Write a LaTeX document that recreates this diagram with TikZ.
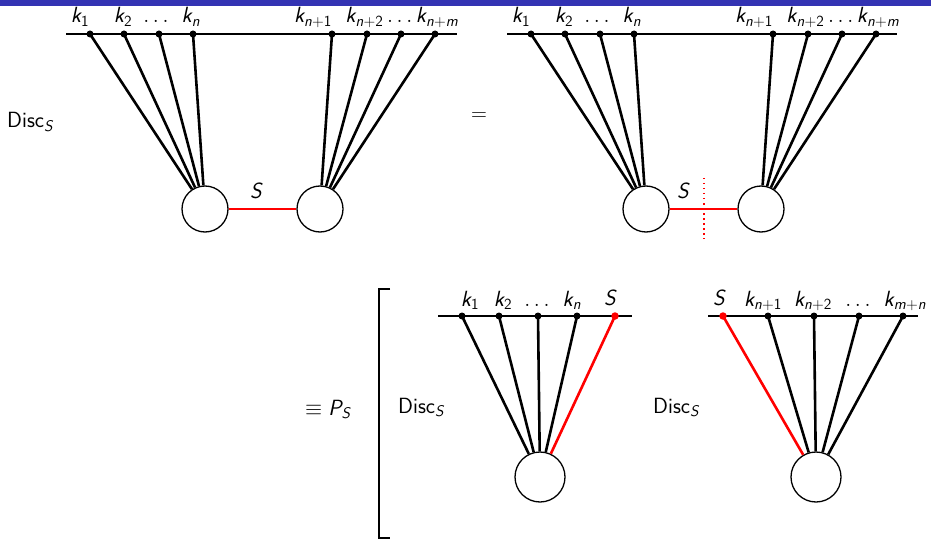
\RequirePackage{fix-cm}
\documentclass[tikz,border=0pt]{standalone}
\DeclareMathAlphabet{\mathsfsl}{OT1}{cmss}{m}{sl}
\DeclareMathAlphabet{\mathsfup}{OT1}{cmss}{m}{n}
\newcommand{\vk}{\mathsfsl{k}}
\newcommand{\vn}{\mathsfsl{n}}
\newcommand{\vm}{\mathsfsl{m}}
\newcommand{\vS}{\mathsfsl{S}}
\newcommand{\vP}{\mathsfsl{P}}
\newcommand{\vone}{\mathsfup{1}}
\newcommand{\vtwo}{\mathsfup{2}}
\newcommand{\Disc}{\textsf{Disc}$_{\vS}$}
\definecolor{barblue}{RGB}{51,51,179}
\tikzset{
  vdot/.style={circle,fill=black,inner sep=0pt,minimum size=7pt},
  rdot/.style={circle,fill=red,inner sep=0pt,minimum size=7.5pt},
  blob/.style={circle,draw,line width=1.3pt,inner sep=0pt,minimum size=46pt},
  bigblob/.style={circle,draw,line width=1.3pt,inner sep=0pt,minimum size=50pt},
  leg/.style={line width=2.6pt},
  redleg/.style={line width=2.6pt,red},
  baseline/.style={line width=1.3pt},
  lab/.style={inner sep=0pt,anchor=base,font=\fontsize{22}{26}\selectfont\sffamily},
  labw/.style={inner sep=0pt,anchor=base west,font=\fontsize{22}{26}\selectfont\sffamily}
}
\begin{document}
\begin{tikzpicture}[x=1pt,y=-1pt]
\useasboundingbox (0,0) rectangle (931,540);
\fill[barblue] (0,0) rectangle (931,6);

% ---------- top left ----------
\coordinate (la) at (66,34); \coordinate (lb) at (457,34);
\draw[baseline] (la) -- (lb);
\node[blob] (c1) at (205,209) {};
\node[blob] (c2) at (320,209) {};
\foreach \n/\x in {1/90,2/124,3/159,4/193}{
  \node[vdot] (a\n) at (\x,34) {};
  \draw[leg] (a\n.center) -- (c1);
}
\foreach \n/\x in {1/332,2/367,3/401,4/435}{
  \node[vdot] (b\n) at (\x,34) {};
  \draw[leg] (b\n.center) -- (c2);
}
\draw[redleg] (c1) -- (c2);
\node[lab] (tk1) at (80,23) {$\vk_{\vone}$};
\node[lab] (tk2) at (123,23) {$\vk_{\vtwo}$};
\node[lab] (tkd) at (156,23) {$\ldots$};
\node[lab] (tkn) at (191,23) {$\vk_{\vn}$};
\node[lab] (tkn1) at (313,23) {$\vk_{\vn+\vone}$};
\node[lab] (tkn2) at (402,23) {$\vk_{\vn+\vtwo}\ldots \vk_{\vn+\vm}$};
\node[lab] (tS) at (257,198) {$\vS$};
\node[labw] (disc1) at (7,128) {\Disc};

\node[lab] (eq) at (479,121) {$=$};

% ---------- top right ----------
\coordinate (ra) at (507,34); \coordinate (rb) at (897,34);
\draw[baseline] (ra) -- (rb);
\node[blob] (d1) at (646,209) {};
\node[blob] (d2) at (761,209) {};
\foreach \n/\x in {1/531,2/565,3/600,4/634}{
  \node[vdot] (e\n) at (\x,34) {};
  \draw[leg] (e\n.center) -- (d1);
}
\foreach \n/\x in {1/773,2/808,3/842,4/876}{
  \node[vdot] (f\n) at (\x,34) {};
  \draw[leg] (f\n.center) -- (d2);
}
\draw[redleg] (d1) -- (d2);
\coordinate (cutT) at (704,178); \coordinate (cutB) at (704,239);
\draw[red,line width=1.5pt,dash pattern=on 1.5pt off 3.5pt] (cutT) -- (cutB);
\node[lab] (uk1) at (521,23) {$\vk_{\vone}$};
\node[lab] (uk2) at (564,23) {$\vk_{\vtwo}$};
\node[lab] (ukd) at (597,23) {$\ldots$};
\node[lab] (ukn) at (632,23) {$\vk_{\vn}$};
\node[lab] (ukn1) at (754,23) {$\vk_{\vn+\vone}$};
\node[lab] (ukn2) at (843,23) {$\vk_{\vn+\vtwo}\ldots \vk_{\vn+\vm}$};
\node[lab] (uS) at (684,198) {$\vS$};

% ---------- bracket and P_S ----------
\node[labw] (PS) at (305,415) {$\equiv \vP_{\vS}$};
\coordinate (brA) at (390,289); \coordinate (brB) at (379,289);
\coordinate (brC) at (379,538); \coordinate (brD) at (390,538);
\draw[line width=1.3pt] (brA) -- (brB) -- (brC) -- (brD);

% ---------- bottom left ----------
\coordinate (ga) at (438,316); \coordinate (gb) at (632,316);
\draw[baseline] (ga) -- (gb);
\node[bigblob] (g) at (540,477) {};
\foreach \n/\x in {1/462,2/499,3/538,4/577}{
  \node[vdot] (h\n) at (\x,316) {};
  \draw[leg] (h\n.center) -- (g);
}
\node[rdot] (hS) at (615,316) {};
\draw[redleg] (hS.center) -- (g);
\node[labw] (disc2) at (398,413) {\Disc};
\node[lab] (vk1) at (470,306) {$\vk_{\vone}$};
\node[lab] (vk2) at (503,306) {$\vk_{\vtwo}$};
\node[lab] (vkd) at (537,306) {$\ldots$};
\node[lab] (vkn) at (572,306) {$\vk_{\vn}$};
\node[lab] (vS) at (611,305) {$\vS$};

% ---------- bottom right ----------
\coordinate (ia) at (708,316); \coordinate (ib) at (918,316);
\draw[baseline] (ia) -- (ib);
\node[bigblob] (j) at (816,477) {};
\node[rdot] (jS) at (723,316) {};
\draw[redleg] (jS.center) -- (j);
\foreach \n/\x in {1/768,2/814,3/859,4/903}{
  \node[vdot] (m\n) at (\x,316) {};
  \draw[leg] (m\n.center) -- (j);
}
\node[labw] (disc3) at (653,413) {\Disc};
\node[lab] (wS) at (720,305) {$\vS$};
\node[lab] (wk1) at (763,306) {$\vk_{\vn+\vone}$};
\node[lab] (wk2) at (813,306) {$\vk_{\vn+\vtwo}$};
\node[lab] (wkd) at (858,306) {$\ldots$};
\node[lab] (wkn) at (905,306) {$\vk_{\vm+\vn}$};
\end{tikzpicture}
\end{document}
